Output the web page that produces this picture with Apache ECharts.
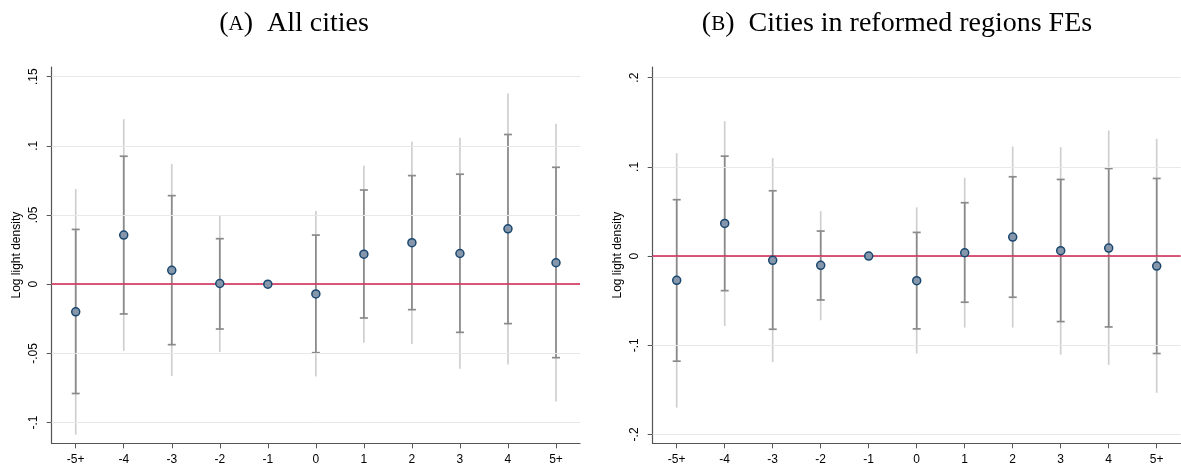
<!DOCTYPE html>
<html>
<head>
<meta charset="utf-8">
<script src="https://cdn.jsdelivr.net/npm/echarts@6/dist/echarts.min.js"></script>
<style>
  html, body { margin: 0; padding: 0; background: #fff; }
  #chart { width: 1181px; height: 468px; }
</style>
</head>
<body>
<div id="chart"></div>
<script>
var cats = ['-5+', '-4', '-3', '-2', '-1', '0', '1', '2', '3', '4', '5+'];

// panel A: all cities
var coefA   = [-0.020, 0.0355, 0.010, 0.0005, 0, -0.007, 0.0217, 0.030, 0.0222, 0.040, 0.0155];
var ciLoA   = [-0.079, -0.0215, -0.0437, -0.0324, null, -0.0495, -0.0244, -0.0184, -0.0348, -0.0285, -0.0531];
var ciHiA   = [0.0396, 0.0925, 0.064, 0.0329, null, 0.0355, 0.0681, 0.0785, 0.0795, 0.1082, 0.0845];
var wideLoA = [-0.1087, -0.0483, -0.0664, -0.049, null, -0.0667, -0.0423, -0.0432, -0.0611, -0.058, -0.0848];
var wideHiA = [0.0688, 0.1193, 0.087, 0.0495, null, 0.0529, 0.0857, 0.1029, 0.1058, 0.1379, 0.1159];
var ticksA  = [-0.1, -0.05, 0, 0.05, 0.1, 0.15];
var labelsA = ['-.1', '-.05', '0', '.05', '.1', '.15'];

// panel B: cities in reformed regions FEs
var coefB   = [-0.0272, 0.0366, -0.0048, -0.0104, 0, -0.0276, 0.0037, 0.0213, 0.006, 0.009, -0.0112];
var ciLoB   = [-0.1179, -0.0388, -0.0821, -0.0493, null, -0.0817, -0.0518, -0.0462, -0.0735, -0.0795, -0.1093];
var ciHiB   = [0.0632, 0.112, 0.0732, 0.028, null, 0.0265, 0.0598, 0.0889, 0.0859, 0.0982, 0.087];
var wideLoB = [-0.170, -0.0784, -0.119, -0.072, null, -0.1093, -0.0802, -0.0802, -0.1105, -0.122, -0.1534];
var wideHiB = [0.1153, 0.1512, 0.1097, 0.0504, null, 0.0545, 0.0878, 0.1228, 0.122, 0.1408, 0.1315];
var ticksB  = [-0.2, -0.1, 0, 0.1, 0.2];
var labelsB = ['-.2', '-.1', '0', '.1', '.2'];

var chart = echarts.init(document.getElementById('chart'));

function pairs(lo, hi) {
    var out = [];
    for (var i = 0; i < cats.length; i++) {
        if (lo[i] == null || hi[i] == null) continue;
        out.push([i, lo[i], hi[i]]);
    }
    return out;
}

function barRender(color, capW) {
    return function(params, api) {
        var x = api.value(0);
        var lo = api.coord([x, api.value(1)]);
        var hi = api.coord([x, api.value(2)]);
        var style = { stroke: color, lineWidth: 1.7 };
        var kids = [{ type: 'line', shape: { x1: lo[0], y1: lo[1], x2: hi[0], y2: hi[1] }, style: style }];
        if (capW > 0) {
            kids.push({ type: 'line', shape: { x1: lo[0] - capW, y1: lo[1], x2: lo[0] + capW, y2: lo[1] }, style: style });
            kids.push({ type: 'line', shape: { x1: hi[0] - capW, y1: hi[1], x2: hi[0] + capW, y2: hi[1] }, style: style });
        }
        return { type: 'group', children: kids };
    };
}

function yAxisFor(idx, ticks, labels, min, max) {
    return {
        type: 'value', gridIndex: idx, min: min, max: max,
        name: 'Log light density', nameLocation: 'middle', nameGap: 29,
        nameTextStyle: { fontFamily: 'Liberation Sans', fontSize: 12, color: '#000' },
        axisLine: { show: true, lineStyle: { color: '#555', width: 1.2 } },
        axisTick: { show: true, length: 5, customValues: ticks, lineStyle: { color: '#555' } },
        axisLabel: {
            customValues: ticks, rotate: 90, margin: 12,
            fontFamily: 'Liberation Sans', fontSize: 12, color: '#000',
            formatter: function(v) {
                for (var i = 0; i < ticks.length; i++) {
                    if (Math.abs(ticks[i] - v) < 1e-9) return labels[i];
                }
                return '';
            }
        },
        splitLine: { show: false }
    };
}

function xAxisFor(idx) {
    return {
        type: 'category', gridIndex: idx, data: cats, boundaryGap: true,
        axisLine: { show: true, onZero: false, lineStyle: { color: '#555', width: 1.2 } },
        axisTick: { show: true, alignWithLabel: true, length: 5, lineStyle: { color: '#555' } },
        axisLabel: { fontFamily: 'Liberation Sans', fontSize: 12, color: '#000', margin: 10, interval: 0 },
        splitLine: { show: false }
    };
}

function panelSeries(idx, coef, ciLo, ciHi, wideLo, wideHi, ticks) {
    return [
        {
            type: 'custom', xAxisIndex: idx, yAxisIndex: idx, z: 2,
            renderItem: barRender('#cfcfcf', 0),
            encode: { x: 0, y: [1, 2] },
            data: pairs(wideLo, wideHi),
            markLine: {
                silent: true, symbol: 'none', label: { show: false },
                lineStyle: { color: '#e8e8e8', width: 1, type: 'solid' },
                data: ticks.map(function(t) { return { yAxis: t }; })
            }
        },
        {
            type: 'custom', xAxisIndex: idx, yAxisIndex: idx, z: 3,
            renderItem: barRender('#8a8a8a', 4),
            encode: { x: 0, y: [1, 2] },
            data: pairs(ciLo, ciHi)
        },
        {
            type: 'scatter', xAxisIndex: idx, yAxisIndex: idx, z: 5,
            symbol: 'circle', symbolSize: 8,
            itemStyle: { color: '#8797ab', borderColor: '#1a476f', borderWidth: 1.5, opacity: 1 },
            data: coef.map(function(v, i) { return [i, v]; }),
            markLine: {
                silent: true, symbol: 'none', label: { show: false },
                lineStyle: { color: '#d0204f', width: 1.6, type: 'solid' },
                data: [{ yAxis: 0 }]
            }
        }
    ];
}

function titleText(x, letter, rest) {
    return {
        type: 'text', x: x, y: 24,
        style: {
            text: '{p|(}{sc|' + letter + '}{p|)  ' + rest + '}',
            textAlign: 'center', textVerticalAlign: 'middle',
            rich: {
                p: { fontFamily: 'Liberation Serif', fontSize: 28, fill: '#000' },
                sc: { fontFamily: 'Liberation Serif', fontSize: 21, fill: '#000' }
            }
        }
    };
}

chart.setOption({
    backgroundColor: '#fff',
    animation: false,
    graphic: [
        titleText(294, 'A', 'All cities'),
        titleText(897, 'B', 'Cities in reformed regions FEs')
    ],
    grid: [
        { left: 51.7, top: 67, width: 528.3, height: 376.3 },
        { left: 652.7, top: 67, width: 528, height: 376.3 }
    ],
    xAxis: [xAxisFor(0), xAxisFor(1)],
    yAxis: [
        yAxisFor(0, ticksA, labelsA, -0.115, 0.157),
        yAxisFor(1, ticksB, labelsB, -0.21, 0.212)
    ],
    series: panelSeries(0, coefA, ciLoA, ciHiA, wideLoA, wideHiA, ticksA)
        .concat(panelSeries(1, coefB, ciLoB, ciHiB, wideLoB, wideHiB, ticksB))
});
</script>
</body>
</html>
